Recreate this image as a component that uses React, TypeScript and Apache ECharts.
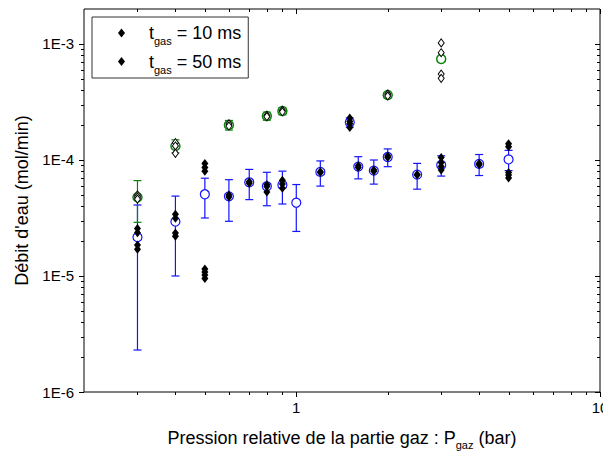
import React, { useEffect, useRef } from 'react';
import * as echarts from 'echarts';

// t_gas = 10 ms : individual measurements (filled diamonds)
const pressure10 = [0.3, 0.3, 0.3, 0.3, 0.4, 0.4, 0.4, 0.4, 0.5, 0.5, 0.5, 0.5, 0.5, 0.5, 0.5, 0.6, 0.6, 0.7, 0.7, 0.8, 0.8, 0.8, 0.9, 0.9, 0.9, 1.2, 1.2, 1.5, 1.5, 1.5, 1.5, 1.6, 1.6, 1.8, 1.8, 2, 2, 2.5, 2.5, 3, 3, 3, 3, 4, 4, 5, 5, 5, 5, 5];
const debit10 = [2.57e-5, 2.36e-5, 1.85e-5, 1.7e-5, 3.4e-5, 3.15e-5, 2.35e-5, 2.2e-5, 9.3e-5, 8.6e-5, 8.0e-5, 1.15e-5, 1.08e-5, 1.02e-5, 9.5e-6, 5.0e-5, 4.8e-5, 6.5e-5, 6.3e-5, 6.1e-5, 5.9e-5, 5.3e-5, 6.7e-5, 6.2e-5, 5.7e-5, 7.9e-5, 7.8e-5, 2.3e-4, 2.15e-4, 2.05e-4, 1.9e-4, 8.9e-5, 8.6e-5, 8.2e-5, 8.0e-5, 1.08e-4, 1.05e-4, 7.5e-5, 7.4e-5, 1.05e-4, 9.5e-5, 8.8e-5, 8.2e-5, 9.3e-5, 9.1e-5, 1.38e-4, 1.3e-4, 7.8e-5, 7.4e-5, 7.0e-5];

// t_gas = 50 ms : individual measurements (open diamonds)
const pressure50 = [0.3, 0.3, 0.3, 0.4, 0.4, 0.4, 0.6, 0.6, 0.8, 0.8, 0.9, 0.9, 2, 2, 3, 3, 3, 3];
const debit50 = [5.0e-5, 4.8e-5, 4.6e-5, 1.41e-4, 1.32e-4, 1.14e-4, 2.05e-4, 1.96e-4, 2.42e-4, 2.36e-4, 2.68e-4, 2.6e-4, 3.7e-4, 3.56e-4, 1.02e-3, 8.4e-4, 5.5e-4, 5.05e-4];

// mean values with error bars (10 ms : blue, 50 ms : green)
const meanP10 = [0.3, 0.4, 0.5, 0.6, 0.7, 0.8, 0.9, 1.0, 1.2, 1.5, 1.6, 1.8, 2.0, 2.5, 3.0, 4.0, 5.0];
const mean10 = [2.16e-5, 2.94e-5, 5.06e-5, 4.86e-5, 6.42e-5, 5.93e-5, 6.09e-5, 4.28e-5, 7.88e-5, 2.11e-4, 8.77e-5, 8.09e-5, 1.06e-4, 7.47e-5, 9.06e-5, 9.24e-5, 1.01e-4];
const err10 = [1.93e-5, 1.94e-5, 1.9e-5, 1.9e-5, 1.87e-5, 1.9e-5, 1.92e-5, 1.86e-5, 1.93e-5, 1.9e-5, 1.9e-5, 1.9e-5, 1.85e-5, 1.87e-5, 1.8e-5, 1.9e-5, 2.0e-5];

const meanP50 = [0.3, 0.4, 0.6, 0.8, 0.9, 2.0, 3.0];
const mean50 = [4.77e-5, 1.32e-4, 2.0e-4, 2.39e-4, 2.64e-4, 3.63e-4, 7.43e-4];
const err50 = [1.87e-5, 1.7e-5, 1.9e-5, 1.9e-5, 1.9e-5, 1.9e-5, 3.0e-5];

// axis ticks
const xMajorTicks = [1, 10];
const xMinorTicks = [0.3, 0.4, 0.5, 0.6, 0.7, 0.8, 0.9, 2, 3, 4, 5, 6, 7, 8, 9];
const yMajorTicks = [1e-6, 1e-5, 1e-4, 1e-3];
const yMinorMantissas = [2, 3, 4, 5, 6, 7, 8, 9];
const yMinorDecades = [1e-6, 1e-5, 1e-4];

const NAME10 = 't_gas = 10 ms';
const NAME50 = 't_gas = 50 ms';
const FONT = '"Liberation Sans", Arial, sans-serif';
const BLUE = '#1414ff';
const GREEN = '#0a820a';

function tickRenderer(dir: 'x' | 'y', len: number) {
  return (params: any, api: any) => {
    const cs = params.coordSys;
    const pt = api.coord([api.value(0), api.value(1)]);
    const style = { stroke: '#000', lineWidth: 1 };
    if (dir === 'x') {
      const x = Math.round(pt[0]) + 0.5;
      const b = cs.y + cs.height;
      const t = cs.y;
      return {
        type: 'group',
        children: [
          { type: 'line', shape: { x1: x, y1: b, x2: x, y2: b + len }, style },
          { type: 'line', shape: { x1: x, y1: t, x2: x, y2: t + len }, style },
        ],
      };
    }
    const y = Math.round(pt[1]) + 0.5;
    const l = cs.x;
    const r = cs.x + cs.width;
    return {
      type: 'group',
      children: [
        { type: 'line', shape: { x1: l - len, y1: y, x2: l, y2: y }, style },
        { type: 'line', shape: { x1: r - len, y1: y, x2: r, y2: y }, style },
      ],
    };
  };
}

function errorRenderer(color: string) {
  return (params: any, api: any) => {
    const x = api.value(0);
    const m = api.value(1);
    const e = api.value(2);
    const top = api.coord([x, m + e]);
    const bot = api.coord([x, m - e]);
    const w = 4;
    const style = { stroke: color, lineWidth: 1.2 };
    return {
      type: 'group',
      children: [
        { type: 'line', shape: { x1: top[0], y1: top[1], x2: bot[0], y2: bot[1] }, style },
        { type: 'line', shape: { x1: top[0] - w, y1: top[1], x2: top[0] + w, y2: top[1] }, style },
        { type: 'line', shape: { x1: bot[0] - w, y1: bot[1], x2: bot[0] + w, y2: bot[1] }, style },
      ],
    };
  };
}

function isPow10(v: number) {
  const e = Math.round(Math.log10(v));
  return Math.abs(v - Math.pow(10, e)) / Math.pow(10, e) < 1e-6 ? e : null;
}

export default function App() {
  const ref = useRef<HTMLDivElement>(null);
  useEffect(() => {
    if (!ref.current) return;
    const chart = echarts.init(ref.current, null, { renderer: 'svg' });
    const yMinorTicks: number[] = [];
    yMinorDecades.forEach((d) => yMinorMantissas.forEach((m) => yMinorTicks.push(m * d)));

    const subRich = {
      t: { fontSize: 18, fontFamily: FONT, color: '#000', lineHeight: 27 },
      f: { fontSize: 18, fontFamily: FONT, color: '#000', lineHeight: 27, padding: [0, 0, 0, 19] },
      s: { fontSize: 11, fontFamily: FONT, color: '#000', verticalAlign: 'bottom', lineHeight: 9 },
    };

    chart.setOption({
      animation: false,
      backgroundColor: '#fff',
      grid: {
        left: 84,
        right: 3,
        top: 9,
        bottom: 61,
        show: true,
        borderColor: '#000',
        borderWidth: 1,
        backgroundColor: 'transparent',
        outerBoundsMode: 'none',
        containLabel: false,
      },
      legend: {
        left: 92,
        top: 17,
        orient: 'vertical',
        borderColor: '#333',
        borderWidth: 1,
        borderRadius: 0,
        padding: [7, 7, 3, 26],
        itemGap: 6,
        itemWidth: 7,
        itemHeight: 9,
        icon: 'diamond',
        data: [
          { name: NAME10, itemStyle: { color: '#000', borderWidth: 0 } },
          { name: NAME50, itemStyle: { color: '#000', borderColor: '#000', borderWidth: 0 } },
        ],
        formatter: (n: string) =>
          n === NAME10 ? '{f|t}{s|gas}{t| = 10 ms}' : '{f|t}{s|gas}{t| = 50 ms}',
        textStyle: { rich: subRich },
      },
      xAxis: {
        type: 'log',
        logBase: 10,
        min: 0.2,
        max: 10,
        axisLine: { show: false },
        axisTick: { show: false },
        splitLine: { show: false },
        axisLabel: {
          fontSize: 15,
          fontFamily: FONT,
          color: '#000',
          margin: 8,
          formatter: (v: number) => (isPow10(v) === null ? '' : String(Math.round(v))),
        },
        name: '{a|Pression relative de la partie gaz : P}{s|gaz}{a| (bar)}',
        nameLocation: 'middle',
        nameGap: 34,
        nameTextStyle: {
          rich: {
            a: { fontSize: 18, fontFamily: FONT, color: '#000', lineHeight: 24 },
            s: { fontSize: 11, fontFamily: FONT, color: '#000', verticalAlign: 'bottom', lineHeight: 9 },
          },
        },
      },
      yAxis: {
        type: 'log',
        logBase: 10,
        min: 1e-6,
        max: 2e-3,
        axisLine: { show: false },
        axisTick: { show: false },
        splitLine: { show: false },
        axisLabel: {
          fontSize: 15,
          fontFamily: FONT,
          color: '#000',
          margin: 10,
          formatter: (v: number) => {
            const e = isPow10(v);
            return e === null ? '' : '1E' + e;
          },
        },
        name: "Débit d'eau (mol/min)",
        nameLocation: 'middle',
        nameGap: 48,
        nameTextStyle: { fontSize: 18, fontFamily: FONT, color: '#000' },
      },
      series: [
        {
          type: 'custom',
          name: 'xMajor',
          clip: false,
          z: 10,
          renderItem: tickRenderer('x', 5),
          data: xMajorTicks.map((v) => [v, 1e-5]),
          silent: true,
        },
        {
          type: 'custom',
          name: 'xMinor',
          clip: false,
          z: 10,
          renderItem: tickRenderer('x', 3),
          data: xMinorTicks.map((v) => [v, 1e-5]),
          silent: true,
        },
        {
          type: 'custom',
          name: 'yMajor',
          clip: false,
          z: 10,
          renderItem: tickRenderer('y', 5),
          data: yMajorTicks.map((v) => [1, v]),
          silent: true,
        },
        {
          type: 'custom',
          name: 'yMinor',
          clip: false,
          z: 10,
          renderItem: tickRenderer('y', 3),
          data: yMinorTicks.map((v) => [1, v]),
          silent: true,
        },
        {
          type: 'custom',
          name: 'err10',
          z: 2,
          renderItem: errorRenderer(BLUE),
          encode: { x: 0, y: 1 },
          data: meanP10.map((p, i) => [p, mean10[i], err10[i]]),
        },
        {
          type: 'custom',
          name: 'err50',
          z: 2,
          renderItem: errorRenderer(GREEN),
          encode: { x: 0, y: 1 },
          data: meanP50.map((p, i) => [p, mean50[i], err50[i]]),
        },
        {
          type: 'scatter',
          name: 'mean10',
          z: 3,
          symbol: 'circle',
          symbolSize: 9,
          itemStyle: { color: '#fff', borderColor: BLUE, borderWidth: 1.2, opacity: 1 },
          data: meanP10.map((p, i) => [p, mean10[i]]),
        },
        {
          type: 'scatter',
          name: 'mean50',
          z: 3,
          symbol: 'circle',
          symbolSize: 9,
          itemStyle: { color: '#fff', borderColor: GREEN, borderWidth: 1.5, opacity: 1 },
          data: meanP50.map((p, i) => [p, mean50[i]]),
        },
        {
          type: 'scatter',
          name: NAME50,
          z: 4,
          symbol: 'diamond',
          symbolSize: [6, 8],
          itemStyle: { color: '#fff', borderColor: '#000', borderWidth: 1, opacity: 1 },
          data: pressure50.map((p, i) => [p, debit50[i]]),
        },
        {
          type: 'scatter',
          name: NAME10,
          z: 5,
          symbol: 'diamond',
          symbolSize: [7, 9],
          itemStyle: { color: '#000', opacity: 1 },
          data: pressure10.map((p, i) => [p, debit10[i]]),
        },
      ],
    });
    return () => chart.dispose();
  }, []);
  return (
    <div
      ref={ref}
      style={{ position: 'fixed', left: 0, top: 0, width: 603, height: 453, background: '#fff' }}
    />
  );
}
